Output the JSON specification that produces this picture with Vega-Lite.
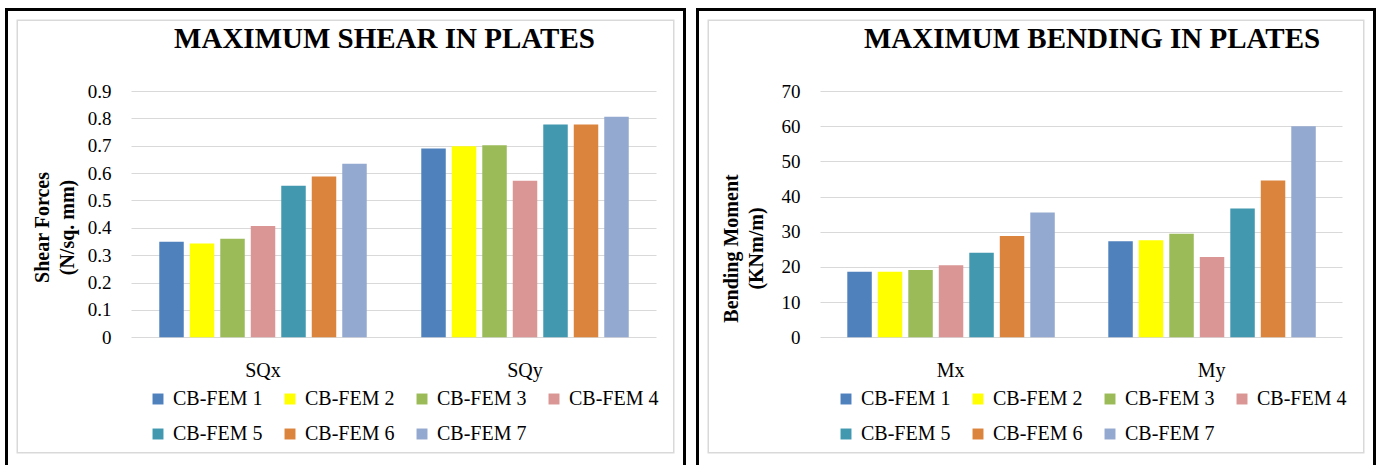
{
  "$schema": "https://vega.github.io/schema/vega-lite/v6.json",
  "padding": {"left": 5, "top": 8, "right": 0, "bottom": 0},
  "background": "white",
  "config": {"view": {"stroke": null}, "font": "Liberation Serif"},
  "datasets": {
    "shear": [
      {"cat": "SQx", "series": "CB-FEM 1", "value": 0.349},
      {"cat": "SQx", "series": "CB-FEM 2", "value": 0.343},
      {"cat": "SQx", "series": "CB-FEM 3", "value": 0.360},
      {"cat": "SQx", "series": "CB-FEM 4", "value": 0.407},
      {"cat": "SQx", "series": "CB-FEM 5", "value": 0.554},
      {"cat": "SQx", "series": "CB-FEM 6", "value": 0.588},
      {"cat": "SQx", "series": "CB-FEM 7", "value": 0.634},
      {"cat": "SQy", "series": "CB-FEM 1", "value": 0.690},
      {"cat": "SQy", "series": "CB-FEM 2", "value": 0.698},
      {"cat": "SQy", "series": "CB-FEM 3", "value": 0.702},
      {"cat": "SQy", "series": "CB-FEM 4", "value": 0.572},
      {"cat": "SQy", "series": "CB-FEM 5", "value": 0.778},
      {"cat": "SQy", "series": "CB-FEM 6", "value": 0.778},
      {"cat": "SQy", "series": "CB-FEM 7", "value": 0.806}
    ],
    "bending": [
      {"cat": "Mx", "series": "CB-FEM 1", "value": 18.6},
      {"cat": "Mx", "series": "CB-FEM 2", "value": 18.6},
      {"cat": "Mx", "series": "CB-FEM 3", "value": 19.1},
      {"cat": "Mx", "series": "CB-FEM 4", "value": 20.5},
      {"cat": "Mx", "series": "CB-FEM 5", "value": 24.0},
      {"cat": "Mx", "series": "CB-FEM 6", "value": 28.8},
      {"cat": "Mx", "series": "CB-FEM 7", "value": 35.5},
      {"cat": "My", "series": "CB-FEM 1", "value": 27.3},
      {"cat": "My", "series": "CB-FEM 2", "value": 27.6},
      {"cat": "My", "series": "CB-FEM 3", "value": 29.4},
      {"cat": "My", "series": "CB-FEM 4", "value": 22.8},
      {"cat": "My", "series": "CB-FEM 5", "value": 36.6},
      {"cat": "My", "series": "CB-FEM 6", "value": 44.6},
      {"cat": "My", "series": "CB-FEM 7", "value": 60.0}
    ]
  },
  "spacing": 10,
  "resolve": {"scale": {"color": "independent"}, "legend": {"color": "independent"}},
  "hconcat": [
    {
      "width": 681,
      "height": 457,
      "title": {"text": "MAXIMUM SHEAR IN PLATES", "font": "Liberation Serif", "fontSize": 29, "fontWeight": "bold", "color": "black", "offset": -69, "baseline": "alphabetic", "dx": 39, "anchor": "middle", "frame": "group"},
      "layer": [
        {"data": {"values": [{}]}, "mark": {"type": "rect", "filled": false, "stroke": "#d9d9d9", "strokeWidth": 26, "clip": true}, "encoding": {}},
        {"data": {"values": [{}]}, "mark": {"type": "rect", "filled": false, "stroke": "white", "strokeWidth": 23, "clip": true}, "encoding": {}},
        {"data": {"values": [{}]}, "mark": {"type": "rect", "filled": false, "stroke": "black", "strokeWidth": 6, "clip": true, "strokeDash": [1138, 681, 470]}, "encoding": {}},
        {
          "data": {"name": "shear"},
          "mark": {"type": "bar"},
          "encoding": {
            "x": {"field": "cat", "type": "nominal", "sort": null, "title": null,
                  "scale": {"paddingInner": 0, "paddingOuter": 0.2996, "align": 0.809},
                  "axis": {"orient": "bottom", "offset": -127.7, "ticks": false, "tickSize": 0, "domain": false, "labelAngle": 0, "labelPadding": 39, "labelBaseline": "alphabetic", "labelFont": "Liberation Serif", "labelFontSize": 20, "labelColor": "black"}},
            "xOffset": {"field": "series", "type": "nominal", "sort": null, "scale": {"paddingInner": 0.197, "paddingOuter": 0.894}},
            "y": {"field": "value", "type": "quantitative",
                  "scale": {"domain": [-0.4666, 1.2033], "nice": false, "zero": false},
                  "axis": {"values": [0, 0.1, 0.2, 0.3, 0.4, 0.5, 0.6, 0.7, 0.8, 0.9], "format": "~g", "offset": -126, "ticks": true, "tickSize": -525, "tickColor": "#d9d9d9", "tickWidth": 1, "domain": false, "grid": false, "labelPadding": 545, "labelFont": "Liberation Serif", "labelFontSize": 19, "labelColor": "black",
                           "title": ["Shear Forces", "(N/sq. mm)"], "titleFont": "Liberation Serif", "titleFontSize": 20, "titleFontWeight": "bold", "titleColor": "black", "titleLineHeight": 25, "titlePadding": 10, "titleY": 219}},
            "y2": {"datum": 0},
            "color": {"field": "series", "type": "nominal", "sort": null,
                      "scale": {"domain": ["CB-FEM 1", "CB-FEM 2", "CB-FEM 3", "CB-FEM 4", "CB-FEM 5", "CB-FEM 6", "CB-FEM 7"], "range": ["#4f81bd", "#ffff00", "#9bbb59", "#d99694", "#4198af", "#db843d", "#93a9cf"]},
                      "legend": {"orient": "none", "legendX": 143, "legendY": 381, "direction": "horizontal", "columns": 4, "title": null, "symbolType": "square", "symbolSize": 120, "symbolStrokeWidth": 0, "labelFont": "Liberation Serif", "labelFontSize": 20, "labelColor": "black", "labelOffset": 5, "columnPadding": 17, "rowPadding": 15, "padding": 0, "labelLimit": 200}}
          }
        }
      ]
    },
    {
      "width": 680,
      "height": 457,
      "title": {"text": "MAXIMUM BENDING IN PLATES", "font": "Liberation Serif", "fontSize": 29, "fontWeight": "bold", "color": "black", "offset": -69, "baseline": "alphabetic", "dx": 56, "anchor": "middle", "frame": "group"},
      "layer": [
        {"data": {"values": [{}]}, "mark": {"type": "rect", "filled": false, "stroke": "#d9d9d9", "strokeWidth": 26, "clip": true}, "encoding": {}},
        {"data": {"values": [{}]}, "mark": {"type": "rect", "filled": false, "stroke": "white", "strokeWidth": 23, "clip": true}, "encoding": {}},
        {"data": {"values": [{}]}, "mark": {"type": "rect", "filled": false, "stroke": "black", "strokeWidth": 6, "clip": true, "strokeDash": [1137, 680, 470]}, "encoding": {}},
        {
          "data": {"name": "bending"},
          "mark": {"type": "bar"},
          "encoding": {
            "x": {"field": "cat", "type": "nominal", "sort": null, "title": null,
                  "scale": {"paddingInner": 0, "paddingOuter": 0.3027, "align": 0.785},
                  "axis": {"orient": "bottom", "offset": -127.7, "ticks": false, "tickSize": 0, "domain": false, "labelAngle": 0, "labelPadding": 39, "labelBaseline": "alphabetic", "labelFont": "Liberation Serif", "labelFontSize": 20, "labelColor": "black"}},
            "xOffset": {"field": "series", "type": "nominal", "sort": null, "scale": {"paddingInner": 0.197, "paddingOuter": 0.894}},
            "y": {"field": "value", "type": "quantitative",
                  "scale": {"domain": [-36.29, 93.59], "nice": false, "zero": false},
                  "axis": {"values": [0, 10, 20, 30, 40, 50, 60, 70], "format": "d", "offset": -124, "ticks": true, "tickSize": -522, "tickColor": "#d9d9d9", "tickWidth": 1, "domain": false, "grid": false, "labelPadding": 542, "labelFont": "Liberation Serif", "labelFontSize": 19, "labelColor": "black",
                           "title": ["Bending Moment", "(KNm/m)"], "titleFont": "Liberation Serif", "titleFontSize": 20, "titleFontWeight": "bold", "titleColor": "black", "titleLineHeight": 25, "titlePadding": 15, "titleY": 240}},
            "y2": {"datum": 0},
            "color": {"field": "series", "type": "nominal", "sort": null,
                      "scale": {"domain": ["CB-FEM 1", "CB-FEM 2", "CB-FEM 3", "CB-FEM 4", "CB-FEM 5", "CB-FEM 6", "CB-FEM 7"], "range": ["#4f81bd", "#ffff00", "#9bbb59", "#d99694", "#4198af", "#db843d", "#93a9cf"]},
                      "legend": {"orient": "none", "legendX": 140, "legendY": 381, "direction": "horizontal", "columns": 4, "title": null, "symbolType": "square", "symbolSize": 120, "symbolStrokeWidth": 0, "labelFont": "Liberation Serif", "labelFontSize": 20, "labelColor": "black", "labelOffset": 5, "columnPadding": 17, "rowPadding": 15, "padding": 0, "labelLimit": 200}}
          }
        }
      ]
    }
  ]
}
